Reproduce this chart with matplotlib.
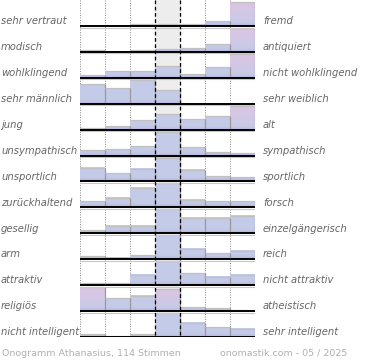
import numpy as np
import matplotlib
matplotlib.use("Agg")
import matplotlib.pyplot as plt
from matplotlib.transforms import blended_transform_factory

# left / right adjective of each scale
left_labels = ["sehr vertraut", "modisch", "wohlklingend", "sehr männlich", "jung",
               "unsympathisch", "unsportlich", "zurückhaltend", "gesellig", "arm",
               "attraktiv", "religiös", "nicht intelligent"]
right_labels = ["fremd", "antiquiert", "nicht wohlklingend", "sehr weiblich", "alt",
                "sympathisch", "sportlich", "forsch", "einzelgängerisch", "reich",
                "nicht attraktiv", "atheistisch", "sehr intelligent"]

# bar heights per row (7 steps, max of row = 24)
votes = [
    [0, 0, 1.5, 1.5, 1.5, 4.5, 24],
    [1.5, 0, 1.5, 3, 4, 7.5, 24],
    [2.7, 6.7, 6.7, 12, 4, 10.7, 24],
    [20, 16, 24, 14, 0, 0, 0],
    [1.7, 3.3, 9.3, 15.3, 10.3, 14, 24],
    [5.7, 6.7, 9.5, 24, 8.3, 3.5, 2.5],
    [13.4, 8, 13, 24, 11.4, 5, 4],
    [6, 9.4, 19.4, 24, 7.7, 6, 6],
    [3, 7.4, 7.4, 24, 15.4, 15.4, 17.4],
    [3, 1.4, 4, 24, 10.4, 6, 8.4],
    [1.7, 1.7, 10.4, 24, 12, 8.4, 10.4],
    [24, 13, 15.4, 22, 4, 3, 1],
    [2.7, 1, 2.7, 24, 14.4, 10, 8.4],
]
footer_left = "Onogramm Athanasius, 114 Stimmen"
footer_right = "onomastik.com - 05 / 2025"

# bars drawn with pink top
pink = {(0, 6), (1, 6), (2, 6), (4, 6), (11, 0), (11, 3)}

ROW_PX = 26.0
blue = np.array([0.77, 0.80, 0.91])
pinkc = np.array([0.86, 0.77, 0.89])
purple = np.array([0.68, 0.63, 0.84])


def gradient(h, is_pink):
    n = max(2, int(round(h * 3)))
    rows = []
    for k in range(n):
        t = k / (n - 1)
        top = pinkc if is_pink else blue
        c = top * (1 - t) + blue * t
        d = (n - 1 - k) / 3.0
        w = np.exp(-d / 1.3)
        c = c * (1 - w) + purple * w
        rows.append(c)
    return np.array(rows).reshape(n, 1, 3)


fig = plt.figure(figsize=(3.7, 3.6), dpi=100)
ax = fig.add_axes([80 / 370, (360 - 337) / 360, 175 / 370, 337 / 360])
ax.set_xlim(0, 7)
ax.set_ylim(13, 0)
ax.axis("off")

ax.axvspan(3, 4, color="#ededed", zorder=0)
ax.vlines([0, 1, 2, 5, 6, 7], 0, 13, colors="#888888", linestyles=(0, (1, 1.5)),
          lw=0.7, zorder=1)

for i, row in enumerate(votes):
    base = i + 1
    for c, h in enumerate(row):
        if h <= 0:
            continue
        top = base - h / ROW_PX
        ax.imshow(gradient(h, (i, c) in pink), extent=(c, c + 1, base, top),
                  aspect="auto", interpolation="bilinear", origin="upper", zorder=2)
        ax.plot([c, c + 1], [top, top], color="#c0c0c0", lw=0.9, zorder=3,
                solid_capstyle="butt")
        ax.plot([c + 1, c + 1], [top, base], color="#999999", lw=0.9, zorder=3,
                solid_capstyle="butt")
    ax.plot([0, 7], [base + 1.6 / ROW_PX] * 2, color="#c8c8c8", lw=0.8, zorder=4)
    ax.plot([0, 7], [base, base], color="black", lw=1.4, zorder=5,
            solid_capstyle="butt")

ax.vlines([3, 4], 0, 13, colors="black", linestyles=(0, (3, 2)), lw=0.9, zorder=4)
ax.set_xlim(0, 7)
ax.set_ylim(13, 0)

tr = blended_transform_factory(fig.transFigure, ax.transData)
for i in range(len(left_labels)):
    y = i + 1 - 1.8 / ROW_PX
    ax.text(1 / 370, y, left_labels[i], transform=tr, fontsize=7.2, style="italic",
            color="#666666", va="baseline", ha="left")
    ax.text(263 / 370, y, right_labels[i], transform=tr, fontsize=7.2, style="italic",
            color="#666666", va="baseline", ha="left")

fig.text(2 / 370, 1 - 353 / 360, footer_left, fontsize=6.8, color="#b0b0b0",
         va="center", ha="left")
fig.text(220 / 370, 1 - 353 / 360, footer_right, fontsize=6.8, color="#b0b0b0",
         va="center", ha="left")

fig.savefig("out.png", dpi=100)
